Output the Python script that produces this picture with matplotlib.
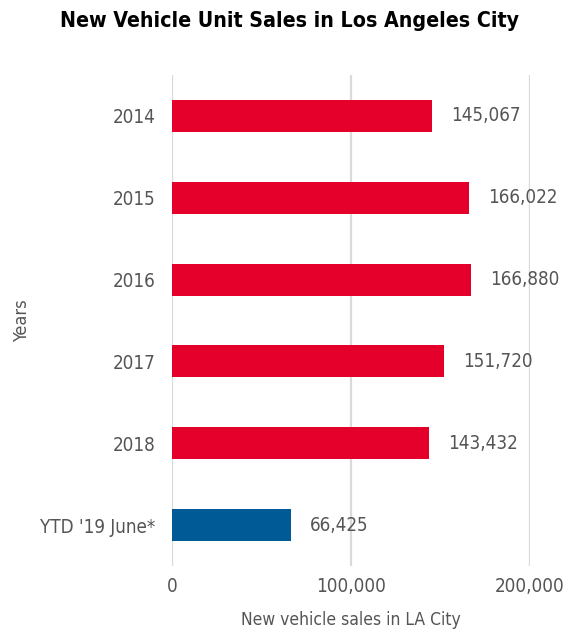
import matplotlib.pyplot as plt
from matplotlib.ticker import FuncFormatter

# data
years = ['2014', '2015', '2016', '2017', '2018', "YTD '19 June*"]
sales = [145067, 166022, 166880, 151720, 143432, 66425]
colors = ['#E4002B'] * 5 + ['#005A96']

plt.rcParams['font.family'] = ['DejaVu Sans']
plt.rcParams['font.stretch'] = 'condensed'
grey = '#555555'

fig = plt.figure(figsize=(5.8, 6.33), dpi=100)
ax = fig.add_axes([172 / 580, 1 - 566 / 633, 358 / 580, 491 / 633])

ypos = list(range(len(years)))
ax.barh(ypos, sales, height=0.39, color=colors, zorder=3)

for y, v in zip(ypos, sales):
    ax.annotate(f'{v:,}', (v, y), xytext=(14, 0), textcoords='offset points',
                va='center', ha='left', fontsize=13.5, color=grey)

ax.set_xlim(0, 200000)
ax.set_ylim(5.5, -0.5)
ax.set_yticks(ypos)
ax.set_yticklabels(years)
ax.set_xticks([0, 100000, 200000])
ax.xaxis.set_major_formatter(FuncFormatter(lambda v, p: f'{int(v):,}'))
ax.grid(axis='x', color='#dadada', linewidth=1.6, zorder=0)
for s in ax.spines.values():
    s.set_visible(False)
ax.tick_params(length=0, labelsize=13.5, colors=grey)
ax.tick_params(axis='y', pad=12)
ax.tick_params(axis='x', pad=8)

fig.text(22 / 580, 1 - 321 / 633, 'Years', rotation=90, ha='center', va='center',
         fontsize=13, color=grey)
ax.set_xlabel('New vehicle sales in LA City', fontsize=12.5, color=grey, labelpad=11)
fig.text(0.5, 1 - 21 / 633, 'New Vehicle Unit Sales in Los Angeles City',
         ha='center', va='center', fontsize=15.3, fontweight='bold', color='black')

fig.savefig('out.png', dpi=100)
